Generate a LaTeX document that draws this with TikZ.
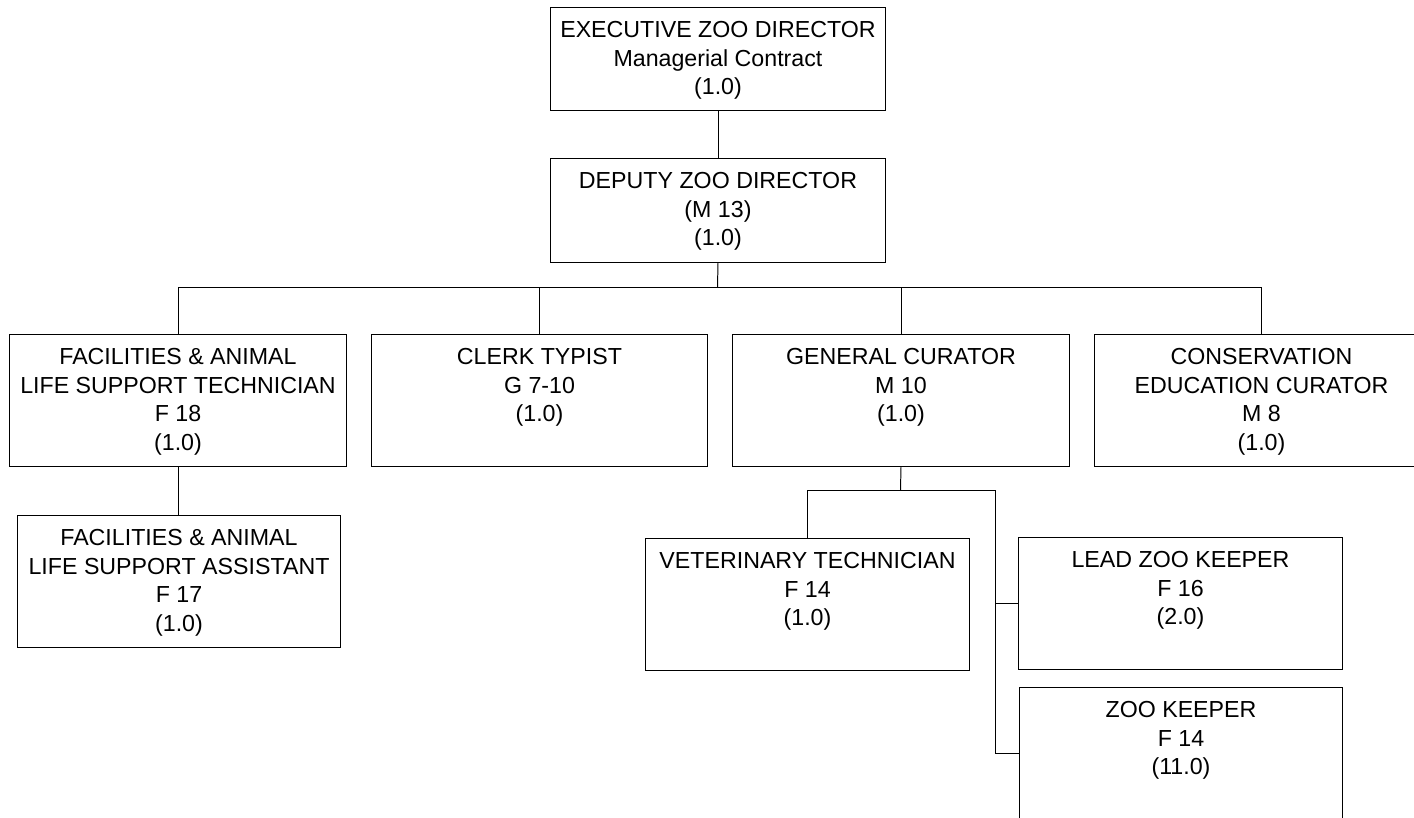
\documentclass[tikz,border=0pt]{standalone}
\usepackage{fontspec}
\setmainfont{Liberation Sans}
\newdimen\pxu
\pxu=0.025cm
\newcommand{\postbody}[3]{\parbox[t][#2\pxu][t]{#1\pxu}{\centering\vspace*{10pt}#3}}
\tikzset{
    post/.style={draw, line width=0.7pt, inner sep=0pt, anchor=north west,
        font=\fontsize{16.5}{20.3}\selectfont},
    wire/.style={line width=0.7pt}
}
\begin{document}
\begin{tikzpicture}[x=0.025cm, y=-0.025cm]
    \useasboundingbox (0,0) rectangle (1414,817);
\foreach \n/\x/\y/\w/\h/\t in {
    exec/550/7/335/103/{EXECUTIVE ZOO DIRECTOR\\Managerial Contract\\(1.0)},
    deputy/550/158/335/104/{DEPUTY ZOO DIRECTOR\\(M 13)\\(1.0)},
    fastech/9/334/337/132/{FACILITIES \& ANIMAL\\LIFE SUPPORT TECHNICIAN\\F 18\\(1.0)},
    clerk/371/334/336/132/{CLERK TYPIST\\G 7-10\\(1.0)},
    gencur/732/334/337/132/{GENERAL CURATOR\\M 10\\(1.0)},
    conscur/1094/334/334/132/{CONSERVATION\\EDUCATION CURATOR\\M 8\\(1.0)},
    fasasst/17/515/323/132/{FACILITIES \& ANIMAL\\LIFE SUPPORT ASSISTANT\\F 17\\(1.0)},
    vettech/645/538/324/132/{VETERINARY TECHNICIAN\\F 14\\(1.0)},
    leadkeep/1018/537/324/132/{LEAD ZOO KEEPER\\F 16\\(2.0)},
    keeper/1019/687/323/132/{ZOO KEEPER\\F 14\\(11.0)}}{
    \node[post] (\n) at (\x,\y) {\postbody{\w}{\h}{\t}};
}

    \coordinate (bus) at (717.5,287);
    \coordinate (subbus) at (900.5,490);
    \coordinate (spine) at (995,490);
    \draw[wire] (exec.south) -- (deputy.north);
    \draw[wire] (deputy.south) -- (bus);
\foreach \c in {fastech,clerk,gencur,conscur}{
    \draw[wire] (bus) -| (\c.north);
}
    \draw[wire] (fastech.south) -- (fastech.south |- fasasst.north);
    \draw[wire] (gencur.south) -- (subbus);
    \draw[wire] (subbus) -| (vettech.north);
    \draw[wire] (subbus) -- (spine) |- (keeper.west);
    \draw[wire] (spine |- leadkeep.west) -- (leadkeep.west);
\end{tikzpicture}
\end{document}
